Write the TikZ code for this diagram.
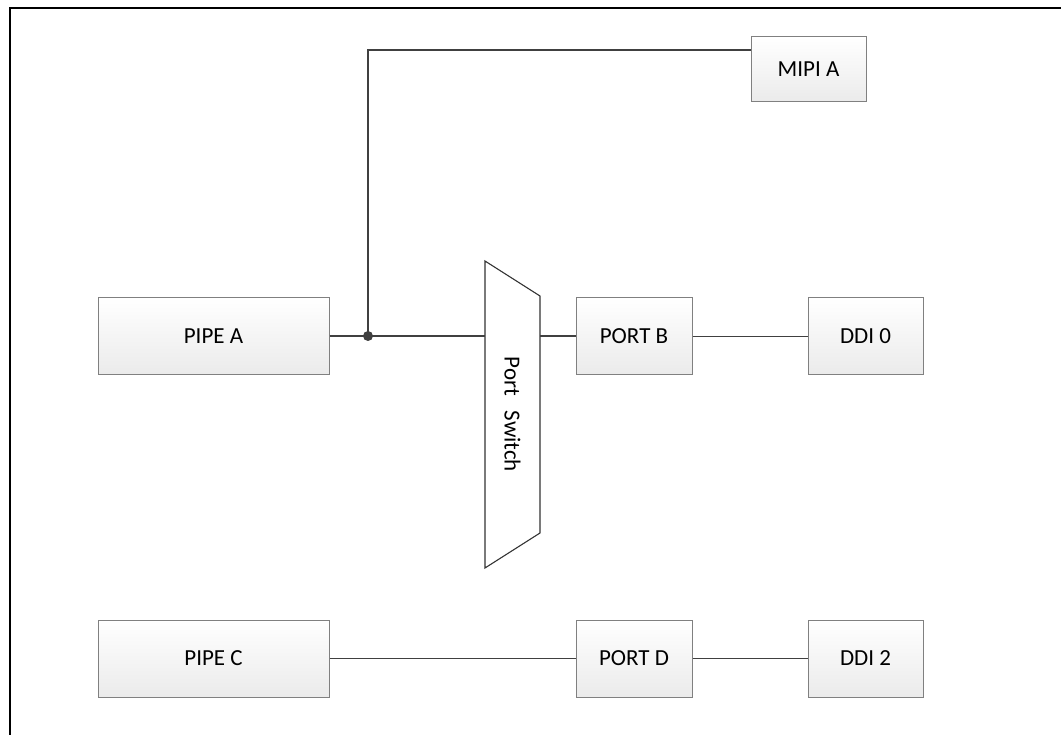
\documentclass[tikz,border=0pt]{standalone}
\usepackage{fontspec}
\setmainfont{Carlito}
\begin{document}
\begin{tikzpicture}[x=1pt,y=-1pt,
  box/.style={draw=black!50, line width=1pt, top color=white, bottom color=black!8,
    inner sep=0pt, font=\fontsize{23}{27}\selectfont, text=black},
  wire/.style={draw=black!75, line width=1.7pt},
  frame/.style={draw=black, line width=2pt}]
\useasboundingbox (0,0) rectangle (1061,735);
\fill[white] (0,0) rectangle (1061,735);
\draw[frame] (9.5,735) -- (9.5,8.5) -- (1061,8.5);
% boxes
\node[box, minimum width=231pt, minimum height=77pt] (pipeA) at (213.5,336.5) {PIPE A};
\node[box, minimum width=231pt, minimum height=77pt] (pipeC) at (213.5,658.5) {PIPE C};
\node[box, minimum width=115pt, minimum height=65pt] (mipiA) at (808.5,69.5) {MIPI A};
\node[box, minimum width=116pt, minimum height=77pt] (portB) at (634,336.5) {PORT B};
\node[box, minimum width=116pt, minimum height=77pt] (portD) at (634,658.5) {PORT D};
\node[box, minimum width=115pt, minimum height=77pt] (ddi0) at (865.5,336.5) {DDI 0};
\node[box, minimum width=115pt, minimum height=77pt] (ddi2) at (865.5,658.5) {DDI 2};
% port switch
\coordinate (swTL) at (485,261);
\coordinate (swBL) at (485,568);
\coordinate (swTR) at (540,296);
\coordinate (swBR) at (540,533);
\draw[draw=black!80, line width=1.1pt, fill=white] (swTL) -- (swTR) -- (swBR) -- (swBL) -- cycle;
\node[rotate=-90, font=\fontsize{23}{27}\selectfont] (sw) at (512.5,414.5) {Port\hspace{0.4em} Switch};
\coordinate (swL) at (485,336);
\coordinate (swR) at (540,336);
\coordinate (dot) at (368,336);
\coordinate (mipiIn) at (751,50);
% wires
\draw[wire] (pipeA.east |- swL) -- (swL);
\draw[wire] (dot) |- (mipiIn);
\draw[wire] (swR) -- (portB.west |- swR);
\draw[wire] (portB.east) -- (ddi0.west);
\draw[wire] (pipeC.east) -- (portD.west);
\draw[wire] (portD.east) -- (ddi2.west);
\fill[black!75] (dot) circle (5pt);
\end{tikzpicture}
\end{document}
